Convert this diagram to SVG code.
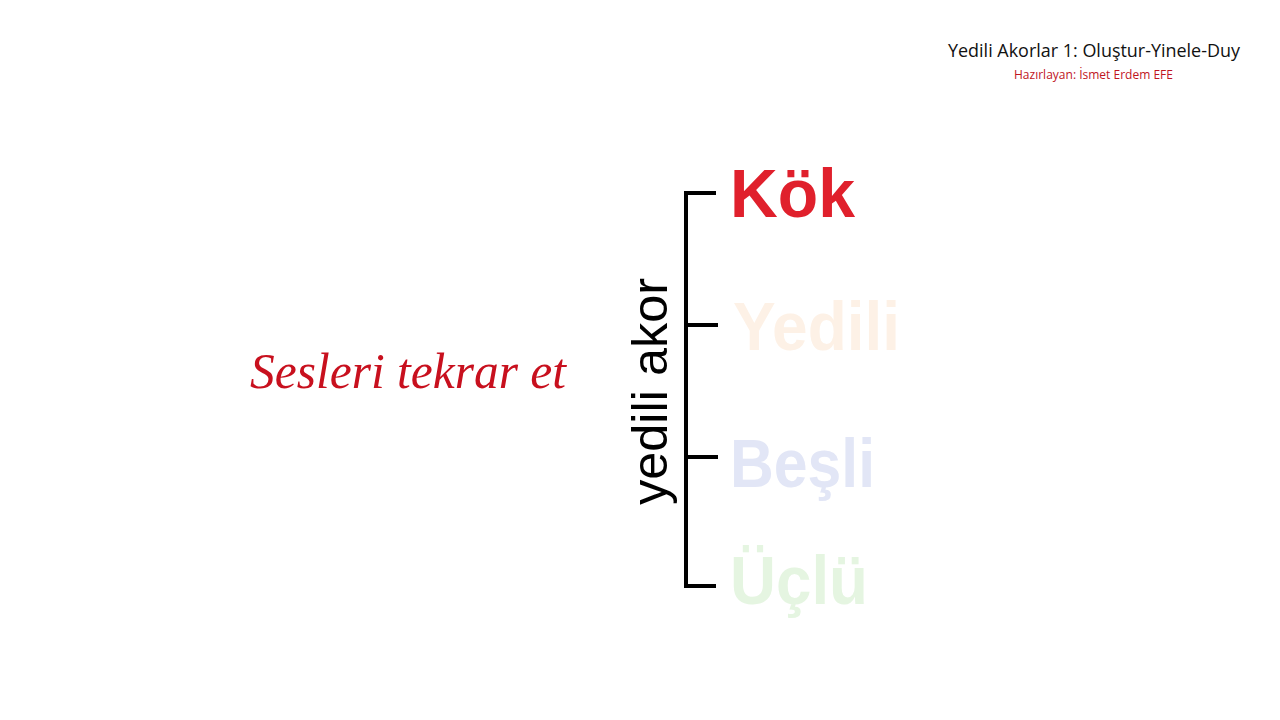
<svg xmlns="http://www.w3.org/2000/svg" width="1280" height="720" viewBox="0 0 1280 720">
<style>
.title{font-family:"Open Sans","Liberation Sans",sans-serif;font-size:18px;fill:#111}
.sub{font-family:"Open Sans","Liberation Sans",sans-serif;font-size:12px;fill:#c0141e}
.big{font-family:"Liberation Sans","Arial",sans-serif;font-weight:bold;font-size:68px}
.br{fill:none;stroke:#000;stroke-width:4;stroke-linecap:butt;stroke-linejoin:miter}
</style>
<rect width="1280" height="720" fill="#fff"/>
<g id="header">
<text class="title" x="948" y="57" textLength="292" lengthAdjust="spacingAndGlyphs">Yedili Akorlar 1: Oluştur-Yinele-Duy</text>
<text class="sub" x="1014" y="79" textLength="159" lengthAdjust="spacingAndGlyphs">Hazırlayan: İsmet Erdem EFE</text>
</g>
<g id="instruction">
<text x="250" y="388" font-family="Liberation Serif, serif" font-style="italic" font-size="50" fill="#c8101e" textLength="316" lengthAdjust="spacingAndGlyphs">Sesleri tekrar et</text>
</g>
<g id="connectors">
<path class="br" d="M716 193 H686 V586 H716 M686 325 H718 M686 457 H718"/>
</g>
<g id="label">
<text transform="translate(667 505) rotate(-90)" font-family="Liberation Sans, Arial, sans-serif" font-size="50" fill="#000" textLength="227" lengthAdjust="spacingAndGlyphs">yedili akor</text>
</g>
<g id="kok"><text class="big" x="730" y="217" fill="#e0202c" textLength="125" lengthAdjust="spacingAndGlyphs">Kök</text></g>
<g id="yedili"><text class="big" x="733" y="350" fill="#fdf1e6" textLength="167" lengthAdjust="spacingAndGlyphs">Yedili</text></g>
<g id="besli"><text class="big" x="730" y="487" fill="#e2e6f6" textLength="145" lengthAdjust="spacingAndGlyphs">Beşli</text></g>
<g id="uclu"><text class="big" x="730" y="604" fill="#e5f5e1" textLength="138" lengthAdjust="spacingAndGlyphs">Üçlü</text></g>
</svg>
